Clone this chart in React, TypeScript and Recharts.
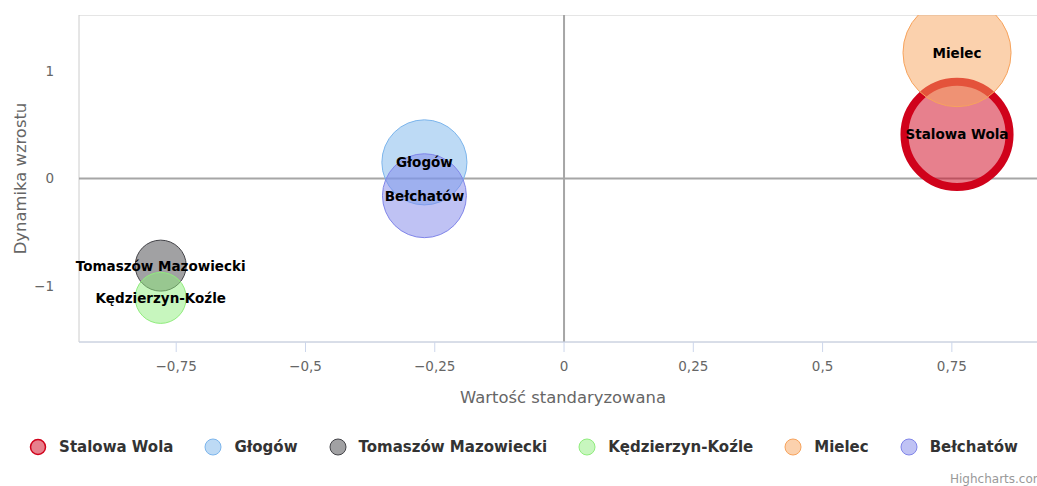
import React from 'react';
import { ScatterChart, Scatter, XAxis, YAxis, ZAxis, ReferenceLine, ReferenceArea, LabelList, Legend } from 'recharts';

const cities = ['Stalowa Wola', 'Głogów', 'Tomaszów Mazowiecki', 'Kędzierzyn-Koźle', 'Mielec', 'Bełchatów'];
const standardValue = [0.76, -0.27, -0.78, -0.78, 0.76, -0.27];
const growth = [0.41, 0.15, -0.81, -1.11, 1.17, -0.16];
const bubbleSize = [27.6, 18.1, 6.5, 6.5, 29.2, 17.6];
const colors = ['#d0021b', '#7cb5ec', '#434348', '#90ed7d', '#f7a35c', '#8085e9'];
const xTicks = [-0.75, -0.5, -0.25, 0, 0.25, 0.5, 0.75];
const yTicks = [-1, 0, 1];

const X_DOMAIN: [number, number] = [-0.938, 0.934];
const Y_DOMAIN: [number, number] = [-1.52, 1.52];
const FONT = '"DejaVu Sans", Verdana, sans-serif';

const CHART_W = 1047;
const CHART_H = 486;
const MARGIN = { top: 15, right: 0, left: 0, bottom: 24 };
const Y_AXIS_W = 79;
const X_AXIS_H = 90;
const LEGEND_H = 30;

const fmt = (v: number) => String(v).replace('.', ',').replace('-', '\u2212');

const series = cities.map((name, i) => ({
    name,
    color: colors[i],
    data: [{ x: standardValue[i], y: growth[i], z: bubbleSize[i], name }],
}));

const renderLabel = (props: any) => {
    const vb = props.viewBox && props.viewBox.width != null ? props.viewBox : props;
    const x = vb.x + vb.width / 2;
    const y = vb.y + vb.height / 2;
    return (
        <text x={x} y={y} textAnchor="middle" dominantBaseline="central" fill="#000" fontSize={13.5} fontWeight="bold" fontFamily={FONT}>
            {props.value}
        </text>
    );
};

const renderLegend = () => (
    <div
        style={{
            height: LEGEND_H,
            display: 'flex',
            alignItems: 'center',
            justifyContent: 'center',
            gap: 31,
            fontFamily: FONT,
            fontSize: 15,
            fontWeight: 'bold',
            color: '#333',
        }}
    >
        {series.map((s, i) => (
            <div key={s.name} style={{ display: 'flex', alignItems: 'center' }}>
                <svg width={18} height={18} style={{ marginRight: 12 }}>
                    <circle
                        cx={9}
                        cy={9}
                        r={i === 0 ? 7.5 : 8}
                        fill={s.color}
                        fillOpacity={0.5}
                        stroke={s.color}
                        strokeWidth={i === 0 ? 1.5 : 1}
                    />
                </svg>
                <span>{s.name}</span>
            </div>
        ))}
    </div>
);

export default function App() {
    return (
        <div style={{ position: 'absolute', left: 0, top: 0, width: 1037, height: 486, overflow: 'hidden', fontFamily: FONT, background: '#fff' }}>
            <ScatterChart width={CHART_W} height={CHART_H} margin={MARGIN}>
                <ReferenceArea x1={X_DOMAIN[0]} x2={X_DOMAIN[1]} y1={Y_DOMAIN[0]} y2={Y_DOMAIN[1]} fill="none" stroke="#cccccc" />
                <XAxis
                    type="number"
                    dataKey="x"
                    domain={X_DOMAIN}
                    ticks={xTicks}
                    allowDataOverflow
                    tickFormatter={fmt}
                    height={X_AXIS_H}
                    stroke="#ccd6eb"
                    tickSize={10}
                    tickMargin={9}
                    tick={{ fill: '#666', fontSize: 13.5 }}
                    label={{ value: 'Wartość standaryzowana', position: 'insideBottom', offset: 29, fill: '#666', fontSize: 16.4 }}
                />
                <YAxis
                    type="number"
                    dataKey="y"
                    domain={Y_DOMAIN}
                    ticks={yTicks}
                    allowDataOverflow
                    tickFormatter={fmt}
                    width={Y_AXIS_W}
                    axisLine={false}
                    tickLine={false}
                    tickSize={0}
                    tickMargin={25}
                    tick={{ fill: '#666', fontSize: 13.5 }}
                    label={{ value: 'Dynamika wzrostu', angle: -90, position: 'insideLeft', offset: 20, fill: '#666', fontSize: 16.4, style: { textAnchor: 'middle' } }}
                />
                <ZAxis type="number" dataKey="z" domain={[0, 30]} range={[0, 9424.8]} />
                <ReferenceLine x={0} stroke="#a6a6a6" strokeWidth={2} />
                <ReferenceLine y={0} stroke="#a6a6a6" strokeWidth={2} />
                <Legend verticalAlign="bottom" height={LEGEND_H} content={renderLegend} />
                {series.map((s, i) => (
                    <Scatter
                        key={s.name}
                        name={s.name}
                        data={s.data}
                        fill={s.color}
                        fillOpacity={0.5}
                        stroke={s.color}
                        strokeWidth={i === 0 ? 8 : 1}
                        isAnimationActive={false}
                    >
                        <LabelList dataKey="name" content={renderLabel} />
                    </Scatter>
                ))}
            </ScatterChart>
            {/* the bubbles are not clipped in this renderer, so mask the strip above the plot top */}
            <div style={{ position: 'absolute', left: 0, top: 0, width: 1037, height: MARGIN.top - 0.5, background: '#fff' }} />
            <div style={{ position: 'absolute', left: 950, top: 472, fontSize: 12, color: '#999', whiteSpace: 'nowrap' }}>Highcharts.com</div>
        </div>
    );
}
